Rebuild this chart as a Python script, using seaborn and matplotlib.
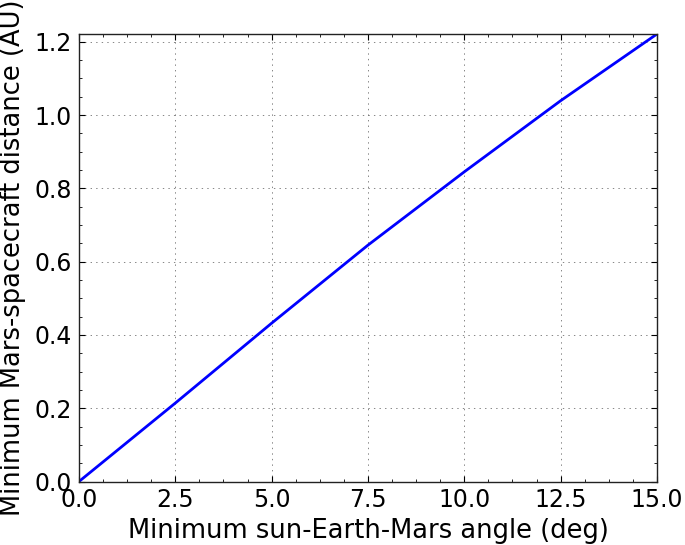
import numpy as np
import pandas as pd
import seaborn as sns
import matplotlib
matplotlib.use("Agg")
import matplotlib.pyplot as plt
from matplotlib.ticker import AutoMinorLocator

# values
angle_deg = [0.0, 2.5, 5.0, 7.5, 10.0, 12.5, 15.0]
distance_au = [0.0, 0.214, 0.432, 0.645, 0.845, 1.039, 1.221]
x_ticks = [0.0, 2.5, 5.0, 7.5, 10.0, 12.5, 15.0]
y_ticks = [0.0, 0.2, 0.4, 0.6, 0.8, 1.0, 1.2]

XLABEL = "Minimum sun-Earth-Mars angle (deg)"
YLABEL = "Minimum Mars-spacecraft distance (AU)"

sns.set_style("ticks")
plt.rcParams["font.family"] = ["DejaVu Sans"]
plt.rcParams["text.color"] = "black"
plt.rcParams["axes.labelcolor"] = "black"
plt.rcParams["xtick.color"] = "black"
plt.rcParams["ytick.color"] = "black"

df = pd.DataFrame({"angle": angle_deg, "distance": distance_au})

fig = plt.figure(figsize=(6.85, 5.45), dpi=100)
ax = fig.add_axes([0.1153, 0.1165, 0.8438, 0.8211])

sns.lineplot(data=df, x="angle", y="distance", ax=ax, color="blue",
             linewidth=2, estimator=None, sort=False)

ax.set_xlim(0, 15)
ax.set_ylim(0, max(distance_au))
ax.set_xticks(x_ticks)
ax.set_yticks(y_ticks)
ax.set_xticklabels([f"{v:.1f}" for v in x_ticks])
ax.set_yticklabels([f"{v:.1f}" for v in y_ticks])
ax.xaxis.set_minor_locator(AutoMinorLocator(4))
ax.yaxis.set_minor_locator(AutoMinorLocator(4))

ax.tick_params(which="both", direction="in", top=True, right=True)
ax.tick_params(which="major", length=4, width=0.8, labelsize=17, pad=5)
ax.tick_params(which="minor", length=2, width=0.6)

# sparse dotted grid, like the old matplotlib look
ax.grid(True, which="major", color="#555555", linestyle=(0, (2, 6)), linewidth=0.5)
for sp in ax.spines.values():
    sp.set_linewidth(1.0)
    sp.set_color("#222222")
    sp.set_visible(True)

ax.set_xlabel(XLABEL, fontsize=18.5, labelpad=4)
ax.set_ylabel(YLABEL, fontsize=18.5, labelpad=6)

fig.savefig("out.png", dpi=100)
